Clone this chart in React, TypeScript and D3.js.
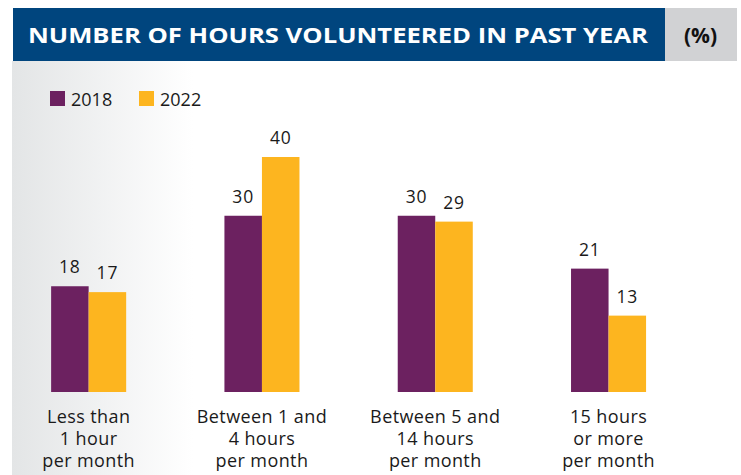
import React from "react";
import * as d3 from "d3";

const categories = [
  ["Less than", "1 hour", "per month"],
  ["Between 1 and", "4 hours", "per month"],
  ["Between 5 and", "14 hours", "per month"],
  ["15 hours", "or more", "per month"],
];
const categoryKeys = ["lt1", "1to4", "5to14", "15plus"];
const seriesNames = ["2018", "2022"];
const values2018 = [18, 30, 30, 21];
const values2022 = [17, 40, 29, 13];
const colors = ["#6c2160", "#fdb51f"];
const title = "NUMBER OF HOURS VOLUNTEERED IN PAST YEAR";
const unitLabel = "(%)";

const W = 741;
const H = 475;
const FONT = "'Open Sans', 'Noto Sans', sans-serif";

export default function App() {
  const x0 = d3.scaleBand<string>().domain(categoryKeys).range([2, 695.2]).paddingInner(0.567).paddingOuter(0.2835);
  const x1 = d3.scaleBand<string>().domain(seriesNames).range([0, x0.bandwidth()]).padding(0);
  const y = d3.scaleLinear().domain([0, 40]).range([392, 157]);
  const series = [values2018, values2022];

  return (
    <svg width={W} height={H} style={{ position: "absolute", left: 0, top: 0 }} fontFamily={FONT}>
      <defs>
        <linearGradient id="bg" x1="0" y1="0" x2="1" y2="0">
          <stop offset="0" stopColor="#e3e5e6" />
          <stop offset="0.25" stopColor="#ffffff" />
          <stop offset="1" stopColor="#ffffff" />
        </linearGradient>
      </defs>
      <rect x={0} y={0} width={W} height={H} fill="#fff" />
      <rect x={12} y={61} width={724} height={H - 61} fill="url(#bg)" />
      <rect x={13} y={8} width={652} height={53} fill="#00457e" />
      <rect x={665} y={8} width={72} height={53} fill="#d1d2d4" />
      <text x={28} y={42.5} fill="#fff" fontSize={22} fontWeight={700} textLength={620} lengthAdjust="spacingAndGlyphs">{title}</text>
      <text x={700.5} y={42.5} fill="#111" fontSize={21} fontWeight={700} textAnchor="middle">{unitLabel}</text>

      {seriesNames.map((s, i) => (
        <g key={s} transform={`translate(${50 + i * 89},91)`}>
          <rect width={15} height={15} fill={colors[i]} />
          <text x={21} y={14.5} fontSize={18} fill="#1a1a1a">{s}</text>
        </g>
      ))}

      {categoryKeys.map((k, ci) => (
        <g key={k} transform={`translate(${x0(k)},0)`}>
          {seriesNames.map((s, si) => {
            const v = series[si][ci];
            const bx = x1(s)!;
            return (
              <g key={s}>
                <rect x={bx} y={y(v)} width={x1.bandwidth()} height={y(0) - y(v)} fill={colors[si]} />
                <text x={bx + x1.bandwidth() / 2} y={y(v) - 13} fontSize={17.5} letterSpacing={0.8} textAnchor="middle" fill="#1a1a1a">{v}</text>
              </g>
            );
          })}
          {categories[ci].map((line, li) => (
            <text key={li} x={x0.bandwidth() / 2} y={423 + li * 22} fontSize={18} letterSpacing={0.4} textAnchor="middle" fill="#1a1a1a">{line}</text>
          ))}
        </g>
      ))}
    </svg>
  );
}
